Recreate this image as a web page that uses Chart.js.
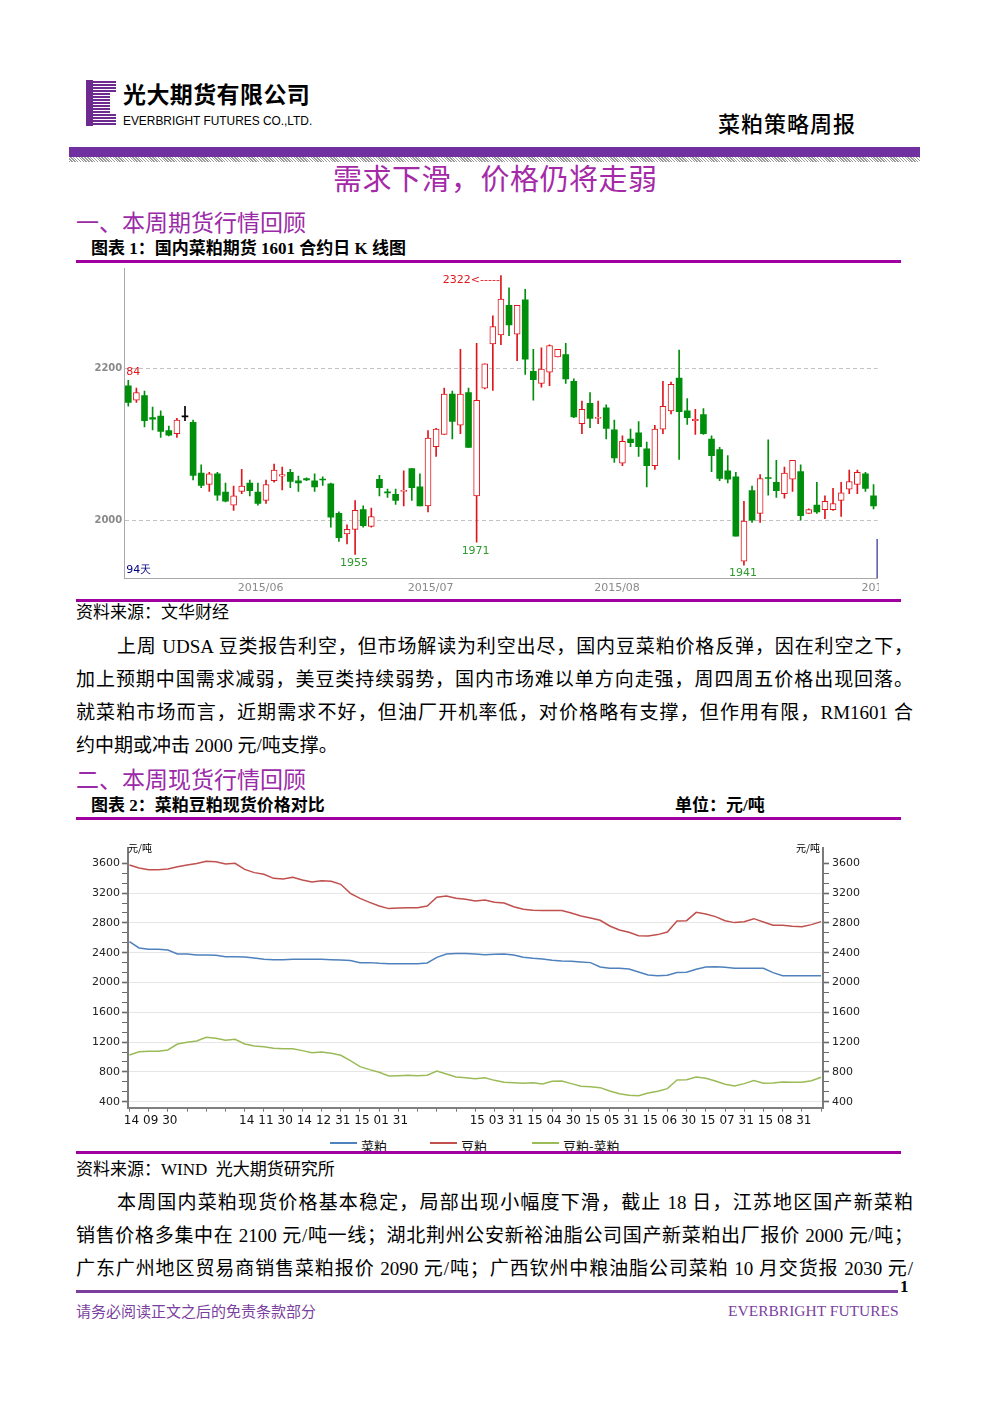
<!DOCTYPE html>
<html><head><meta charset="utf-8">
<script src="https://cdn.jsdelivr.net/npm/chart.js@4.4.1/dist/chart.umd.min.js"></script>
<style>
html,body{margin:0;padding:0;background:#fff;}
#page{position:relative;width:992px;height:1403px;overflow:hidden;font-family:"Liberation Serif","Noto Sans CJK SC",serif;color:#000;}
.a{position:absolute;white-space:nowrap;}
.cjk{font-family:"Noto Sans CJK SC",sans-serif;}
.purple{color:#9b2aa8;}
.rule{position:absolute;left:76px;width:825px;height:3px;background:#a000a0;}
.jl{position:absolute;font-size:19px;line-height:33px;height:33px;text-align:justify;text-align-last:justify;}
.ll{position:absolute;font-size:19px;line-height:33px;height:33px;white-space:nowrap;}
canvas{display:block;}
</style></head>
<body><div id="page">

<!-- header logo -->
<div id="logo" class="a" style="left:86px;top:80px;width:30px;height:46px;"></div>
<div class="a cjk" style="left:123px;top:80px;font-size:23px;line-height:26px;font-weight:700;letter-spacing:0.4px;">光大期货有限公司</div>
<div class="a" style="left:123px;top:113.5px;font-family:'Liberation Sans',sans-serif;font-size:13px;line-height:14px;transform:scaleX(0.915);transform-origin:0 0;">EVERBRIGHT FUTURES CO.,LTD.</div>
<div class="a cjk" style="left:718px;top:109px;font-size:22px;line-height:26px;font-weight:500;letter-spacing:1px;">菜粕策略周报</div>
<div class="a" style="left:69px;top:147px;width:851px;height:10px;background:#7030a0;"></div>
<div class="a" style="left:69px;top:157px;width:851px;height:5px;background-image:repeating-linear-gradient(45deg,#9a9a9a 0 1px,#ffffff 1px 2px);"></div>
<div class="a cjk" style="left:333px;top:161px;font-size:29px;line-height:32px;letter-spacing:0.5px;color:#a52aa8;">需求下滑，价格仍将走弱</div>

<div class="a cjk purple" style="left:76px;top:207.5px;font-size:23px;line-height:26px;">一、本周期货行情回顾</div>
<div class="a" style="left:91px;top:239px;font-size:17px;line-height:20px;font-weight:700;">图表 1：国内菜粕期货 1601 合约日 K 线图</div>
<div class="rule" style="top:260px;"></div>

<div id="kwrap" class="a" style="left:90px;top:265px;width:789px;height:330px;overflow:hidden;"><canvas id="kchart" width="820" height="330"></canvas></div>

<div class="rule" style="top:599px;"></div>
<div class="a" style="left:76px;top:602.5px;font-size:17px;line-height:20px;">资料来源：文华财经</div>

<div class="jl" style="left:117px;top:629.5px;width:796px;">上周 UDSA 豆类报告利空，但市场解读为利空出尽，国内豆菜粕价格反弹，因在利空之下，</div>
<div class="jl" style="left:76px;top:662.5px;width:837px;">加上预期中国需求减弱，美豆类持续弱势，国内市场难以单方向走强，周四周五价格出现回落。</div>
<div class="jl" style="left:76px;top:695.5px;width:837px;">就菜粕市场而言，近期需求不好，但油厂开机率低，对价格略有支撑，但作用有限，RM1601 合</div>
<div class="ll" style="left:76px;top:728.5px;">约中期或冲击 2000 元/吨支撑。</div>

<div class="a cjk purple" style="left:76px;top:765px;font-size:23px;line-height:26px;">二、本周现货行情回顾</div>
<div class="a" style="left:91px;top:795.5px;font-size:17px;line-height:20px;font-weight:700;">图表 2：菜粕豆粕现货价格对比</div>
<div class="a" style="left:675px;top:795.5px;font-size:17px;line-height:20px;font-weight:700;">单位：元/吨</div>
<div class="rule" style="top:817px;"></div>

<div id="lwrap" class="a" style="left:76px;top:840px;width:825px;height:290px;"><canvas id="lchart" width="825" height="290"></canvas></div>
<div class="a cjk" style="left:128px;top:842px;font-size:10px;line-height:11px;">元/吨</div>
<div class="a cjk" style="left:796px;top:842px;font-size:10px;line-height:11px;">元/吨</div>
<div id="llegend" class="a" style="left:76px;top:1134px;width:825px;height:17px;overflow:hidden;"></div>

<div class="rule" style="top:1151px;"></div>
<div class="a" style="left:76px;top:1160px;font-size:17px;line-height:20px;">资料来源：WIND&nbsp; 光大期货研究所</div>

<div class="jl" style="left:117px;top:1185.5px;width:796px;">本周国内菜粕现货价格基本稳定，局部出现小幅度下滑，截止 18 日，江苏地区国产新菜粕</div>
<div class="jl" style="left:76px;top:1218.5px;width:837px;">销售价格多集中在 2100 元/吨一线；湖北荆州公安新裕油脂公司国产新菜粕出厂报价 2000 元/吨；</div>
<div class="jl" style="left:76px;top:1251.5px;width:837px;">广东广州地区贸易商销售菜粕报价 2090 元/吨；广西钦州中粮油脂公司菜粕 10 月交货报 2030 元/</div>

<div class="a" style="left:900px;top:1277px;font-size:17px;line-height:20px;font-weight:700;">1</div>
<div class="a" style="left:76px;top:1290px;width:822px;height:3px;background:#7b3fa0;"></div>
<div class="a cjk" style="left:76px;top:1302px;font-size:15px;line-height:18px;color:#7b3fa0;">请务必阅读正文之后的免责条款部分</div>
<div class="a" style="left:728px;top:1302px;font-size:15.5px;line-height:18px;color:#7b3fa0;">EVERBRIGHT FUTURES</div>

</div>
<script>
// ---------- Chart 1: RM1601 daily K-line ----------
const kOpen  = [2177,2158,2164,2135,2137,2118,2114,2136,2129,2062,2047,2061,2037,2020,2038,2049,2037,2026,2052,2058,
                2063,2052,2055,2052,2054,2048,2009,1982,1988,2014,1992,2054,2037,2034,2038,2068,2044,2019,2097,2113,
                2166,2125,2168,2032,2174,2232,2244,2283,2245,2290,2196,2180,2195,2215,2218,2183,2127,2154,2134,2148,
                2119,2075,2107,2115,2094,2072,2120,2144,2187,2144,2131,2139,2107,2093,2065,2057,1946,2039,2009,2056,
                2050,2035,2054,2064,2009,2020,2014,2014,2026,2041,2047,2061,2032];
const kClose = [2155,2168,2131,2133,2117,2112,2132,2136,2059,2046,2061,2033,2025,2032,2045,2039,2022,2047,2066,2060,
                2051,2049,2053,2044,2053,2004,1977,1988,2013,1993,2005,2043,2036,2026,2039,2043,2019,2108,2120,2166,
                2130,2166,2096,2158,2206,2255,2291,2257,2283,2212,2185,2199,2230,2225,2186,2136,2146,2134,2135,2121,
                2082,2104,2102,2097,2072,2120,2150,2179,2143,2135,2133,2114,2085,2055,2054,1979,1999,2000,2055,2055,
                2039,2062,2079,2006,2014,2011,2025,2022,2036,2051,2063,2042,2019];
const kHigh  = [2184,2174,2170,2149,2144,2124,2134,2150,2132,2073,2063,2063,2049,2045,2067,2053,2049,2053,2074,2070,
                2067,2058,2056,2061,2057,2049,2011,1994,2026,2019,2016,2059,2041,2041,2065,2068,2061,2118,2121,2174,
                2170,2225,2174,2233,2206,2269,2322,2306,2283,2304,2225,2227,2231,2225,2233,2186,2157,2168,2157,2152,
                2132,2111,2120,2130,2103,2125,2183,2182,2224,2160,2146,2147,2111,2096,2085,2063,2025,2045,2060,2106,
                2079,2070,2079,2073,2015,2050,2032,2042,2050,2066,2066,2063,2047];
const kLow   = [2150,2155,2123,2119,2109,2111,2109,2131,2053,2043,2038,2026,2024,2013,2035,2032,2020,2022,2050,2040,
                2043,2038,2052,2038,2046,1991,1972,1969,1955,1991,1991,2032,2030,2021,2019,2026,2019,2011,2084,2113,
                2107,2114,2096,1971,2173,2171,2231,2243,2210,2192,2158,2175,2177,2215,2180,2135,2114,2122,2127,2107,
                2076,2072,2097,2084,2044,2067,2114,2140,2080,2126,2113,2113,2064,2052,2049,1979,1941,1997,1997,2033,
                2030,2029,2038,2000,2009,2009,2002,2013,2005,2035,2035,2038,2015];
const kDays = kOpen.map((_, i) => i + 1);
const kMonthDay = [14, 35, 58, 91];
const kMonthLabels = ['2015/06', '2015/07', '2015/08', '2015/09'];
const kYTicks = [2000, 2200];
const kNotes = [
  { text: '2322<-----', day: 46, value: 2322, kind: 'high' },
  { text: '84',         day: 0,  value: 2184, kind: 'edge' },
  { text: '1955',       day: 28, value: 1955, kind: 'low' },
  { text: '1971',       day: 43, value: 1971, kind: 'low' },
  { text: '1941',       day: 76, value: 1941, kind: 'low' }
];
const kDayCountText = '94天';

// ---------- Chart 2: spot prices ----------
const lineDays = [0,2,4,6,8,10,12,14,16,18,20,22,24,26,28,30,32,34,36,38,40,42,44,46,48,50,52,54,56,58,60,62,64,66,68,70,72,
                  74,76,78,80,82,84,86,88,90,92,94,96,98,100,102,104,106,108,110,112,114,116,118,120,122,124,126,128,130,132,134,136,138,140,142,144];
const rapeMeal = [2549,2464,2446,2446,2437,2383,2383,2370,2370,2365,2347,2347,2343,2329,2311,2307,2307,2311,2311,
                  2311,2311,2307,2303,2294,2267,2267,2258,2253,2253,2253,2253,2262,2338,2383,2388,2388,2383,
                  2374,2379,2383,2370,2338,2325,2316,2298,2289,2285,2276,2267,2209,2191,2191,2182,2141,2101,
                  2092,2097,2133,2137,2177,2209,2213,2204,2191,2191,2191,2191,2133,2092,2092,2092,2092,2092];
const soyMeal  = [3578,3538,3515,3515,3524,3555,3578,3596,3627,3622,3591,3600,3519,3475,3452,3398,3390,3412,3376,
                  3349,3367,3358,3318,3197,3130,3076,3027,2992,3000,3005,3005,3027,3144,3162,3130,3117,3094,
                  3108,3077,3068,3018,2983,2969,2965,2965,2965,2933,2893,2866,2835,2759,2705,2674,2629,2625,
                  2643,2678,2826,2830,2942,2920,2884,2830,2804,2817,2857,2813,2768,2768,2754,2750,2777,2817];
const spread   = [1027,1072,1077,1077,1095,1175,1197,1215,1265,1251,1224,1238,1175,1148,1139,1117,1112,1112,1086,
                  1059,1068,1050,1023,951,871,831,795,746,750,755,750,755,813,772,732,723,710,
                  723,687,661,656,647,656,638,674,678,643,607,602,589,544,508,486,482,517,
                  540,576,692,696,732,714,678,634,611,643,683,647,651,665,661,661,683,728];
const seriesNames = ['菜粕', '豆粕', '豆粕-菜粕'];
const seriesColors = ['#4f81bd', '#c0504d', '#9bbb59'];
const lineXTickLabels = ['14','09','30','','','','14','11','30','14','12','31','15','01','31','','','','15','03','31',
                         '15','04','30','15','05','31','15','06','30','15','07','31','15','08','31',''];
const lineYMajor = [400, 800, 1200, 1600, 2000, 2400, 2800, 3200, 3600];

// ---------- logo ----------
(function () {
  const logo = document.getElementById('logo');
  let html = '<div style="position:absolute;left:0;top:0;width:7px;height:46px;background:#6e2a8e"></div>';
  for (let r = 0; r < 15; r++) {
    const w = (r < 4 || r > 10) ? 23 : 17;
    html += '<div style="position:absolute;left:7px;top:' + (r * 3 + 1) + 'px;width:' + w + 'px;height:2px;background:#6e2a8e"></div>';
  }
  logo.innerHTML = html;
})();

Chart.defaults.font.family = "'DejaVu Sans', sans-serif";

// ---------- K chart ----------
const RED = '#e0161c', GREEN = '#008f0c', FLAT = '#000000';
const kColor = i => kClose[i] > kOpen[i] ? RED : (kClose[i] < kOpen[i] ? GREEN : FLAT);

const kNotesPlugin = {
  id: 'kNotes',
  afterDatasetsDraw(chart) {
    const { ctx, chartArea, scales: { x, y } } = chart;
    ctx.save();
    ctx.font = "11px 'DejaVu Sans', sans-serif";
    kNotes.forEach(n => {
      const px = x.getPixelForValue(n.day), py = y.getPixelForValue(n.value);
      if (n.kind === 'high') {
        ctx.fillStyle = RED; ctx.textAlign = 'right'; ctx.textBaseline = 'middle';
        ctx.fillText(n.text, px - 1, py + 4.5);
      } else if (n.kind === 'edge') {
        ctx.fillStyle = RED; ctx.textAlign = 'left'; ctx.textBaseline = 'middle';
        ctx.fillText(n.text, chartArea.left + 2, py - 8.5);
      } else {
        ctx.fillStyle = '#2f9a2f'; ctx.textAlign = 'center'; ctx.textBaseline = 'middle';
        ctx.fillText(n.text, px - 1, py + 8.5);
      }
    });
    ctx.fillStyle = '#00007f'; ctx.textAlign = 'left'; ctx.textBaseline = 'middle';
    ctx.fillText(kDayCountText, chartArea.left + 2, chartArea.bottom - 8);
    ctx.strokeStyle = '#00007f'; ctx.lineWidth = 1;
    ctx.beginPath();
    ctx.moveTo(chartArea.right - 0.5, chartArea.bottom - 39);
    ctx.lineTo(chartArea.right - 0.5, chartArea.bottom);
    ctx.stroke();
    ctx.restore();
  }
};

new Chart(document.getElementById('kchart'), {
  type: 'bar',
  data: {
    labels: kDays,
    datasets: [
      {
        label: 'body', order: 0, grouped: false, barThickness: 6, minBarLength: 1, borderSkipped: false,
        data: kOpen.map((o, i) => [o, kClose[i]]),
        backgroundColor: kOpen.map((o, i) => kClose[i] > o ? '#ffffff' : kColor(i)),
        borderColor: kOpen.map((o, i) => kColor(i)),
        borderWidth: kOpen.map((o, i) => kClose[i] > o ? 1 : 0)
      },
      {
        label: 'wick', order: 1, grouped: false, barThickness: 1, borderWidth: 0,
        data: kLow.map((l, i) => [l, kHigh[i]]),
        backgroundColor: kOpen.map((o, i) => kColor(i))
      }
    ]
  },
  options: {
    responsive: false, animation: false, devicePixelRatio: 1,
    layout: { padding: { left: 0, right: 32.4, top: 3, bottom: 0 } },
    plugins: { legend: { display: false }, tooltip: { enabled: false } },
    scales: {
      x: {
        offset: true,
        grid: { display: false, drawTicks: false, tickLength: 0 },
        border: { display: true, color: '#a8a8a8', width: 1 },
        ticks: {
          autoSkip: false, maxRotation: 0, minRotation: 0, align: 'start', labelOffset: -4, padding: 4,
          color: '#8a8a8a', font: { size: 11 },
          callback: (v, i) => { const j = kMonthDay.indexOf(i); return j >= 0 ? kMonthLabels[j] : ''; }
        },
        afterFit: s => { s.height = 17; s.paddingLeft = 0; s.paddingRight = 0; }
      },
      y: {
        min: 1924, max: 2332,
        grid: { color: '#c2c2c2', drawTicks: false },
        border: { display: true, color: '#a8a8a8', width: 1, dash: [4, 3] },
        ticks: { padding: 2, color: '#8a8a8a', font: { size: 10, weight: 'bold' }, callback: v => String(v) },
        afterBuildTicks: s => { s.ticks = kYTicks.map(v => ({ value: v })); },
        afterFit: s => { s.width = 34.25; s.paddingTop = 0; s.paddingBottom = 0; }
      }
    }
  },
  plugins: [kNotesPlugin]
});

// ---------- Line chart ----------
const isMajor = v => lineYMajor.indexOf(Math.round(v)) >= 0 && Math.abs(v - Math.round(v)) < 1e-6;
function buildYTicks(s) {
  const t = [];
  lineYMajor.forEach((m, i) => {
    t.push({ value: m });
    if (i < lineYMajor.length - 1) { t.push({ value: m + 400 / 3 }); t.push({ value: m + 800 / 3 }); }
  });
  s.ticks = t;
}
const yCommon = {
  min: 320, max: 3800,
  ticks: {
    autoSkip: false, color: '#222', font: { size: 11 },
    callback: v => isMajor(v) ? String(Math.round(v)) : ''
  },
  afterBuildTicks: buildYTicks
};

const seriesData = [rapeMeal, soyMeal, spread];
new Chart(document.getElementById('lchart'), {
  type: 'line',
  data: {
    datasets: seriesData.map((arr, si) => ({
      label: seriesNames[si],
      data: lineDays.map((d, i) => ({ x: d, y: arr[i] })),
      borderColor: seriesColors[si], backgroundColor: seriesColors[si],
      borderWidth: 1.5, pointRadius: 0, fill: false, tension: 0
    }))
  },
  options: {
    responsive: false, animation: false, devicePixelRatio: 1,
    layout: { padding: { left: 0, right: 0, top: 8.4, bottom: 0 } },
    plugins: { legend: { display: false }, tooltip: { enabled: false } },
    scales: {
      x: {
        type: 'linear', min: -0.3, max: 144.4,
        grid: { drawOnChartArea: false, drawTicks: true, tickLength: 4, tickColor: '#7a7a7a' },
        border: { display: true, color: '#808080', width: 2 },
        ticks: {
          autoSkip: false, maxRotation: 0, minRotation: 0, padding: 2, labelOffset: 2,
          color: '#111', font: { size: 12 },
          callback: (v, i) => lineXTickLabels[i]
        },
        afterBuildTicks: s => { s.ticks = lineXTickLabels.map((_, j) => ({ value: j * 4 })); },
        afterFit: s => { s.height = 22.3; s.paddingLeft = 0; s.paddingRight = 0; }
      },
      y: Object.assign({}, yCommon, {
        position: 'left',
        grid: {
          drawOnChartArea: true, tickLength: 6,
          color: c => (c.tick && isMajor(c.tick.value) && Math.round(c.tick.value) !== 3600) ? '#e6e6e6' : 'rgba(0,0,0,0)',
          tickColor: '#6a6a6a',
          tickWidth: c => (c.tick && isMajor(c.tick.value)) ? 1.6 : 1
        },
        border: { display: true, color: '#7a7a7a', width: 2 },
        ticks: Object.assign({}, yCommon.ticks, { padding: 2 }),
        afterFit: s => { s.width = 52; s.paddingTop = 0; s.paddingBottom = 0; }
      }),
      y2: Object.assign({}, yCommon, {
        position: 'right', display: true,
        grid: {
          drawOnChartArea: false, tickLength: 6, tickColor: '#6a6a6a',
          tickWidth: c => (c.tick && isMajor(c.tick.value)) ? 1.6 : 1
        },
        border: { display: true, color: '#7a7a7a', width: 2 },
        ticks: Object.assign({}, yCommon.ticks, { padding: 3 }),
        afterFit: s => { s.width = 78; s.paddingTop = 0; s.paddingBottom = 0; }
      })
    }
  }
});

// legend (HTML, from series names/colours)
(function () {
  const lg = document.getElementById('llegend');
  const starts = [254, 354, 456];
  let html = '';
  seriesNames.forEach((n, i) => {
    html += '<div style="position:absolute;left:' + starts[i] + 'px;top:8px;width:27px;height:2px;background:' + seriesColors[i] + '"></div>';
    html += '<div class="cjk" style="position:absolute;left:' + (starts[i] + 31) + 'px;top:4px;font-size:13px;line-height:16px;white-space:nowrap;color:#111">' + n + '</div>';
  });
  lg.innerHTML = html;
})();
</script>
</body></html>
